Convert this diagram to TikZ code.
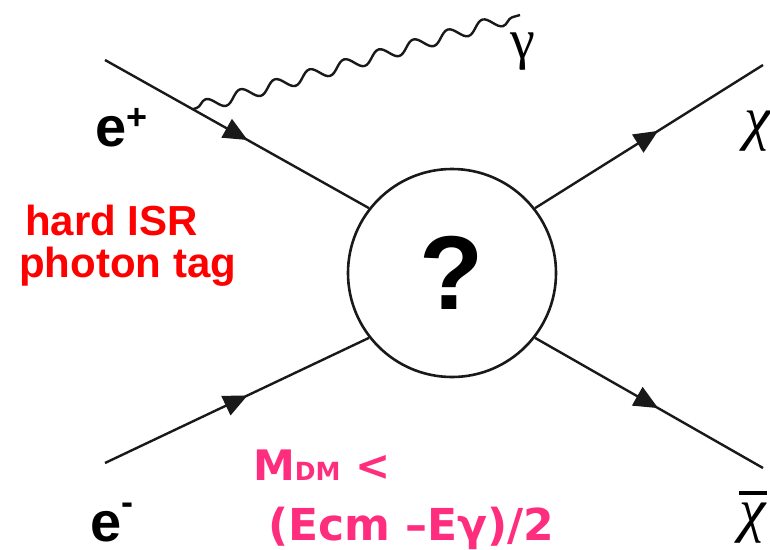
\documentclass[tikz,border=0pt]{standalone}
\usepackage{fontspec}
\usetikzlibrary{calc,decorations.pathmorphing,decorations.markings,arrows.meta}
\newfontfamily\arialfont{Liberation Sans}
\newfontfamily\dejafont{DejaVu Sans}
\newfontfamily\timesfont{Liberation Serif}
\definecolor{tagred}{RGB}{255,0,0}
\definecolor{masspink}{RGB}{255,45,125}
\definecolor{ink}{RGB}{25,25,25}
\tikzset{
  fermion/.style={color=ink, line width=2.4pt, postaction={decorate},
    decoration={markings, mark=at position 0.54 with {\arrow{Triangle[length=24pt,width=21pt]}}}},
  photon/.style={draw=ink, line width=2.4pt, decorate,
    decoration={snake, segment length=36pt, amplitude=6pt, pre length=4pt, post length=4pt}},
  blobnode/.style={circle, draw=ink, line width=2.6pt, minimum size=208pt, inner sep=0pt,
    font=\arialfont\bfseries\fontsize{105}{105}\selectfont},
  particle/.style={inner sep=0pt, anchor=base west},
}
\begin{document}
\begin{tikzpicture}[x=1pt,y=-1pt]
\useasboundingbox (0,0) rectangle (770,549);
% interaction blob
\node[blobnode] (blob) at (452,273) {?};
% external legs
\coordinate (ep) at (105,60);
\coordinate (em) at (105,463);
\coordinate (chi) at (763,65);
\coordinate (chib) at (763,468);
\coordinate (gend) at (520,15);
\draw[fermion] (ep) -- (blob.142);
\draw[fermion] (em) -- (blob.218);
\draw[fermion] (blob.38) -- (chi);
\draw[fermion] (blob.-38) -- (chib);
% radiated photon
\coordinate (gv) at ($(ep)!0.332!(blob.142)$);
\draw[photon] (gv) -- (gend);
% particle labels
\node[particle, font=\arialfont\bfseries\fontsize{56}{56}\selectfont] (eplus) at (95,146)
  {e\raisebox{17pt}{\fontsize{36}{36}\selectfont +}};
\node[particle, font=\arialfont\bfseries\fontsize{56}{56}\selectfont] (eminus) at (90,541)
  {e\raisebox{27pt}{\fontsize{36}{36}\selectfont -}};
\node[particle, font=\timesfont\fontsize{56}{56}\selectfont] (gam) at (510,58) {γ};
\node[particle, font=\timesfont\itshape\fontsize{60}{60}\selectfont] (chilab) at (744,138) {χ};
\node[particle, font=\timesfont\itshape\fontsize{60}{60}\selectfont] (chibarlab) at (739,530)
  {\vbox{\hrule height 4pt width 28pt\kern 7pt\hbox{χ}}};
% annotations (base anchor sits on the last line)
\node[inner sep=0pt, anchor=base west, align=left, text=tagred,
  font=\arialfont\bfseries\fontsize{42}{42}\selectfont] (isr) at (19,277)
  {\hspace*{6pt}hard ISR\\photon tag};
\node[inner sep=0pt, anchor=base west, align=left, text=masspink,
  font=\dejafont\bfseries\fontsize{42}{60}\selectfont] (mdm) at (253,540)
  {M{\fontsize{25}{25}\selectfont DM} <\\\fontsize{44}{60}\selectfont\hspace*{15pt}(Ecm –Eγ)/2};
\end{tikzpicture}
\end{document}
